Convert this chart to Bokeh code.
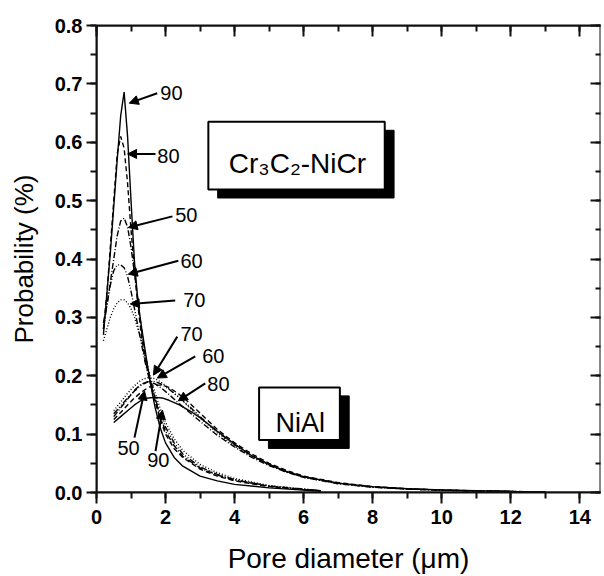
from bokeh.plotting import figure
from bokeh.models import (LinearAxis, SingleIntervalTicker, PrintfTickFormatter, CustomJSTickFormatter,
                          Arrow, NormalHead, BoxAnnotation, Label, Range1d)
from bokeh.embed import file_html
from bokeh.resources import INLINE

# ---------------- data ----------------
cr_x = [0.2, 0.3, 0.4, 0.5, 0.6, 0.7, 0.8, 0.9, 1.0, 1.1, 1.2, 1.3, 1.4, 1.55, 1.7,
        1.85, 2.0, 2.25, 2.5, 3.0, 3.5, 4.0, 5.0, 6.0, 6.5]
cr_90 = [0.27, 0.34, 0.41, 0.49, 0.57, 0.645, 0.686, 0.61, 0.50, 0.395, 0.327, 0.285, 0.247,
         0.19, 0.145, 0.11, 0.085, 0.06, 0.045, 0.028, 0.02, 0.014, 0.008, 0.004, 0.002]
cr_80 = [0.28, 0.34, 0.42, 0.50, 0.58, 0.61, 0.59, 0.53, 0.45, 0.38, 0.32, 0.27, 0.23,
         0.19, 0.155, 0.125, 0.10, 0.075, 0.06, 0.04, 0.028, 0.02, 0.01, 0.005, 0.003]
cr_50 = [0.29, 0.32, 0.36, 0.40, 0.44, 0.465, 0.47, 0.455, 0.42, 0.375, 0.33, 0.28, 0.24,
         0.195, 0.16, 0.13, 0.105, 0.08, 0.062, 0.042, 0.03, 0.021, 0.011, 0.005, 0.003]
cr_60 = [0.28, 0.32, 0.355, 0.38, 0.39, 0.39, 0.385, 0.37, 0.345, 0.315, 0.285, 0.255, 0.225,
         0.19, 0.16, 0.135, 0.112, 0.085, 0.066, 0.044, 0.031, 0.022, 0.011, 0.006, 0.003]
cr_70 = [0.26, 0.28, 0.30, 0.315, 0.325, 0.33, 0.33, 0.325, 0.315, 0.30, 0.28, 0.26, 0.235,
         0.20, 0.17, 0.143, 0.12, 0.092, 0.072, 0.048, 0.034, 0.024, 0.012, 0.006, 0.003]

ni_x = [0.5, 0.7, 0.9, 1.1, 1.3, 1.5, 1.7, 1.9, 2.1, 2.4, 2.7, 3.0, 3.5, 4.0, 4.5, 5.0,
        5.5, 6.0, 7.0, 8.0, 9.0, 10.0, 11.0, 12.0, 13.0]
ni_90 = [0.12, 0.13, 0.14, 0.15, 0.158, 0.162, 0.163, 0.162, 0.158, 0.15, 0.14, 0.128, 0.105,
         0.083, 0.063, 0.048, 0.036, 0.027, 0.016, 0.010, 0.0065, 0.0045, 0.003, 0.002, 0.0012]
ni_80 = [0.125, 0.137, 0.15, 0.162, 0.172, 0.18, 0.184, 0.184, 0.18, 0.168, 0.153, 0.136, 0.108,
         0.085, 0.066, 0.05, 0.038, 0.028, 0.017, 0.010, 0.0065, 0.0043, 0.0028, 0.0018, 0.0011]
ni_50 = [0.13, 0.145, 0.16, 0.175, 0.186, 0.19, 0.186, 0.178, 0.168, 0.152, 0.137, 0.122, 0.098,
         0.078, 0.06, 0.046, 0.035, 0.026, 0.015, 0.009, 0.006, 0.004, 0.0025, 0.0017, 0.001]
ni_60 = [0.135, 0.148, 0.162, 0.174, 0.184, 0.19, 0.19, 0.185, 0.177, 0.163, 0.147, 0.13, 0.104,
         0.082, 0.063, 0.048, 0.036, 0.027, 0.016, 0.0095, 0.006, 0.004, 0.0026, 0.0017, 0.001]
ni_70 = [0.14, 0.155, 0.17, 0.183, 0.193, 0.197, 0.195, 0.188, 0.178, 0.162, 0.145, 0.128, 0.102,
         0.08, 0.062, 0.047, 0.035, 0.026, 0.015, 0.009, 0.006, 0.004, 0.0025, 0.0016, 0.001]

x_ticks_interval = 2
y_ticks_interval = 0.1
x_label = "Pore diameter (\u03bcm)"
y_label = "Probability (%)"
box_cr_text = "Cr\u2083C\u2082-NiCr"
box_ni_text = "NiAl"

# ---------------- styles ----------------
dash = {"90": "solid", "80": "5 3", "50": "6 2 1 2", "60": "6 2 1 2 1 2", "70": "1 2"}
FONT = "Liberation Sans"
AX = "#111111"
X_END = 14.6
Y_END = 0.8

p = figure(width=604, height=576,
           x_range=Range1d(0, X_END), y_range=Range1d(0, Y_END),
           output_backend="svg", toolbar_location=None,
           min_border_left=96, min_border_top=25, min_border_bottom=81, min_border_right=4)
p.outline_line_color = None
p.xgrid.visible = False
p.ygrid.visible = False


def style_axis(ax, labels, tin, tout, mtin, mtout, interval, minor):
    ax.ticker = SingleIntervalTicker(interval=interval, num_minor_ticks=minor)
    ax.axis_line_color = AX
    ax.axis_line_width = 2
    ax.major_tick_line_color = AX
    ax.minor_tick_line_color = AX
    ax.major_tick_line_width = 2
    ax.minor_tick_line_width = 2
    ax.major_tick_in = tin
    ax.major_tick_out = tout
    ax.minor_tick_in = mtin
    ax.minor_tick_out = mtout
    if not labels:
        ax.formatter = CustomJSTickFormatter(code="return ''")
        ax.major_label_standoff = 0
    else:
        ax.major_label_text_font = FONT
        ax.major_label_text_font_style = "bold"
        ax.major_label_text_font_size = "20px"
        ax.major_label_text_color = "black"
        ax.major_label_standoff = 6
        ax.axis_label_text_font = FONT
        ax.axis_label_text_font_style = "normal"
        ax.axis_label_text_color = "black"


bottom = p.xaxis[0]
style_axis(bottom, True, 0, 11, 0, 6, x_ticks_interval, 2)
bottom.axis_label = x_label
bottom.axis_label_text_font_size = "28px"
bottom.axis_label_standoff = 16

left = p.yaxis[0]
style_axis(left, True, 0, 10, 0, 6, y_ticks_interval, 2)
left.formatter = PrintfTickFormatter(format="%.1f")
left.axis_label = y_label
left.axis_label_text_font_size = "26px"
left.axis_label_standoff = 13
left.major_label_standoff = 4

top = LinearAxis()
style_axis(top, False, 11, 0, 6, 0, x_ticks_interval, 2)
p.add_layout(top, "above")

right = LinearAxis()
style_axis(right, False, 10, 0, 5, 0, y_ticks_interval, 2)
right.axis_line_color = None
p.add_layout(right, "right")

# frame border (same place as the spines)
p.add_layout(BoxAnnotation(left=0, right=X_END, bottom=0, top=Y_END,
                           fill_alpha=0.0, line_color=AX, line_alpha=1.0, line_width=2))

# ---------------- curves ----------------
for key, ys in [("70", cr_70), ("60", cr_60), ("50", cr_50), ("80", cr_80), ("90", cr_90)]:
    p.line(cr_x, ys, line_color="black", line_width=1.4, line_dash=dash[key])
for key, ys in [("70", ni_70), ("60", ni_60), ("50", ni_50), ("80", ni_80), ("90", ni_90)]:
    p.line(ni_x, ys, line_color="black", line_width=1.4, line_dash=dash[key])

# ---------------- annotation boxes ----------------
def shadow_box(l, r, t, b, dx, dy):
    p.add_layout(BoxAnnotation(left=l + dx, right=r + dx, top=t - dy, bottom=b - dy,
                               fill_color="black", fill_alpha=1.0,
                               line_color="black", line_alpha=1.0, line_width=1))
    p.add_layout(BoxAnnotation(left=l, right=r, top=t, bottom=b,
                               fill_color="white", fill_alpha=1.0,
                               line_color="black", line_alpha=1.0, line_width=2))

shadow_box(3.24, 8.35, 0.635, 0.519, 0.27, 0.0145)
shadow_box(4.71, 7.05, 0.180, 0.090, 0.27, 0.0145)

p.add_layout(Label(x=5.82, y=0.563, text=box_cr_text, text_font=FONT, text_font_size="28px",
                   text_align="center", text_baseline="alphabetic", text_color="black"))
p.add_layout(Label(x=5.90, y=0.119, text=box_ni_text, text_font=FONT, text_font_size="27px",
                   text_align="center", text_baseline="alphabetic", text_color="black"))

# ---------------- arrows + labels ----------------
# (label, x_start, y_start, x_end, y_end, label_x, label_y, align)
arrows = [
    ("90", 1.76, 0.684, 0.95, 0.667, 1.85, 0.684, "left"),
    ("80", 1.71, 0.580, 0.90, 0.580, 1.76, 0.577, "left"),
    ("50", 2.20, 0.473, 0.92, 0.454, 2.28, 0.475, "left"),
    ("60", 2.37, 0.397, 0.92, 0.374, 2.43, 0.397, "left"),
    ("70", 2.28, 0.329, 0.98, 0.323, 2.51, 0.329, "left"),
    ("70", 2.34, 0.267, 1.65, 0.201, 2.43, 0.271, "left"),
    ("60", 2.86, 0.233, 1.76, 0.196, 3.06, 0.233, "left"),
    ("80", 3.15, 0.187, 2.37, 0.157, 3.21, 0.186, "left"),
    ("50", 1.10, 0.094, 1.39, 0.174, 0.93, 0.077, "center"),
    ("90", 1.71, 0.071, 1.91, 0.141, 1.79, 0.056, "center"),
]
for lab, xs, ys, xe, ye, lx, ly, al in arrows:
    p.add_layout(Arrow(end=NormalHead(size=9, fill_color="black", line_color="black"),
                       x_start=xs, y_start=ys, x_end=xe, y_end=ye,
                       line_color="black", line_width=2))
    p.add_layout(Label(x=lx, y=ly, text=lab, text_font=FONT, text_font_size="20px",
                       text_align=al, text_baseline="middle", text_color="black"))

open("out.html", "w").write(file_html(p, INLINE))
